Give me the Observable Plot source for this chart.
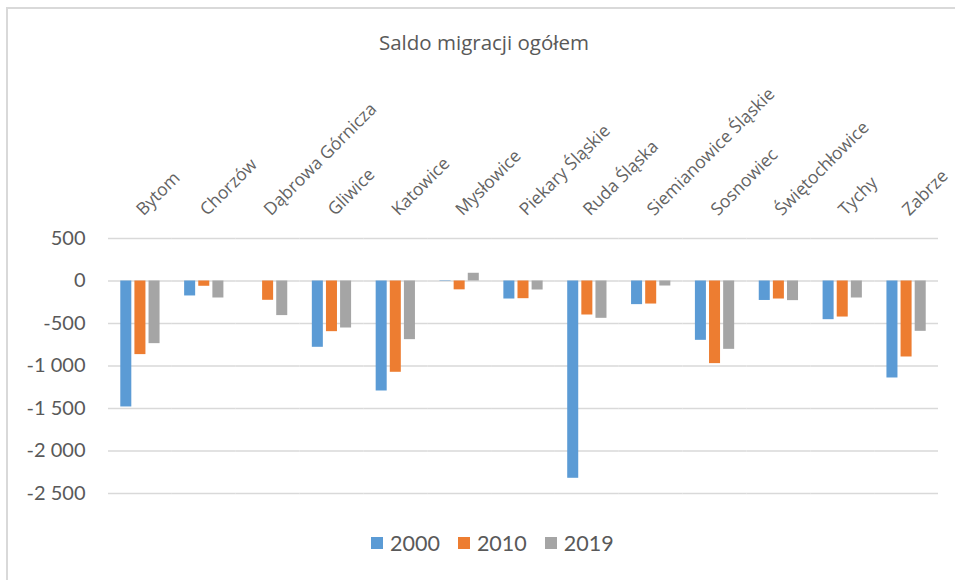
<!DOCTYPE html>
<html><head><meta charset="utf-8">
<script src="https://cdn.jsdelivr.net/npm/d3@7"></script>
<script src="https://cdn.jsdelivr.net/npm/@observablehq/plot@0.6"></script>
<style>
body{margin:0;background:#fff;width:955px;height:580px;overflow:hidden;position:relative;}
#frame{position:absolute;left:6px;top:7px;width:960px;height:590px;border:2px solid #d9d9d9;box-sizing:border-box;}
#title{position:absolute;left:0;width:968px;top:28px;text-align:center;font:20.5px "Open Sans";color:#595959;}
#chart{position:absolute;left:0;top:60px;}
#legend{position:absolute;left:371px;top:530px;display:flex;align-items:center;font:21.5px Lato;color:#595959;}
.sw{width:12px;height:12px;margin-right:7px;}
.item{display:flex;align-items:center;margin-right:18px;}
</style></head>
<body>
<div id="frame"></div>
<div id="title">Saldo migracji ogółem</div>
<div id="chart"></div>
<div id="legend"></div>
<script>
const cities = ["Bytom","Chorzów","Dąbrowa Górnicza","Gliwice","Katowice","Mysłowice","Piekary Śląskie","Ruda Śląska","Siemianowice Śląskie","Sosnowiec","Świętochłowice","Tychy","Zabrze"];
const years = ["2000","2010","2019"];
const v2000 = [-1482, -176, 0, -780, -1294, -5, -212, -2321, -278, -698, -229, -455, -1141];
const v2010 = [-866, -62, -227, -596, -1074, -104, -208, -400, -271, -972, -212, -424, -894];
const v2019 = [-737, -200, -407, -553, -690, 91, -106, -439, -59, -804, -231, -200, -592];
const yTicks = [500, 0, -500, -1000, -1500, -2000, -2500];
const colors = ["#5b9bd5", "#ed7d31", "#a5a5a5"];

const series = [v2000, v2010, v2019];
const data = cities.flatMap((c, i) => years.map((y, j) => ({city: c, year: y, value: series[j][i]})));
const locale = d3.formatLocale({decimal: ",", thousands: " ", grouping: [3], currency: ["", ""], minus: "-"});
const fmt = locale.format(",d");

const chart = Plot.plot({
  width: 955, height: 443,
  marginTop: 178, marginBottom: 10, marginLeft: 108, marginRight: 17,
  style: {fontFamily: "Lato", fontSize: "20px", color: "#595959", background: "transparent", overflow: "visible"},
  fx: {domain: cities, padding: 0, round: false, axis: null},
  x: {domain: years, paddingInner: 0.22, paddingOuter: 0.87, round: false, axis: null},
  y: {domain: [-2500, 500], axis: null},
  color: {domain: years, range: colors},
  marks: [
    Plot.ruleY(yTicks, {stroke: "#d9d9d9", strokeWidth: 1.3}),
    Plot.barY(data, {fx: "city", x: "year", y1: 0, y2: "value", fill: "year"}),
    Plot.axisY({ticks: yTicks, tickFormat: fmt, tickSize: 0, tickPadding: 23, fontSize: 20, label: null}),
    Plot.text(cities, {fx: d => d, text: d => d, frameAnchor: "top", rotate: -45, textAnchor: "start", lineAnchor: "bottom", dx: 3, dy: -22, fontFamily: "Open Sans", fontSize: 17.5, fill: "#636363"})
  ]
});
document.getElementById("chart").appendChild(chart);

const legend = document.getElementById("legend");
years.forEach((y, i) => {
  const it = document.createElement("div");
  it.className = "item";
  const sw = document.createElement("div");
  sw.className = "sw";
  sw.style.background = colors[i];
  const t = document.createElement("span");
  t.textContent = y;
  it.appendChild(sw); it.appendChild(t);
  legend.appendChild(it);
});
</script>
</body></html>
